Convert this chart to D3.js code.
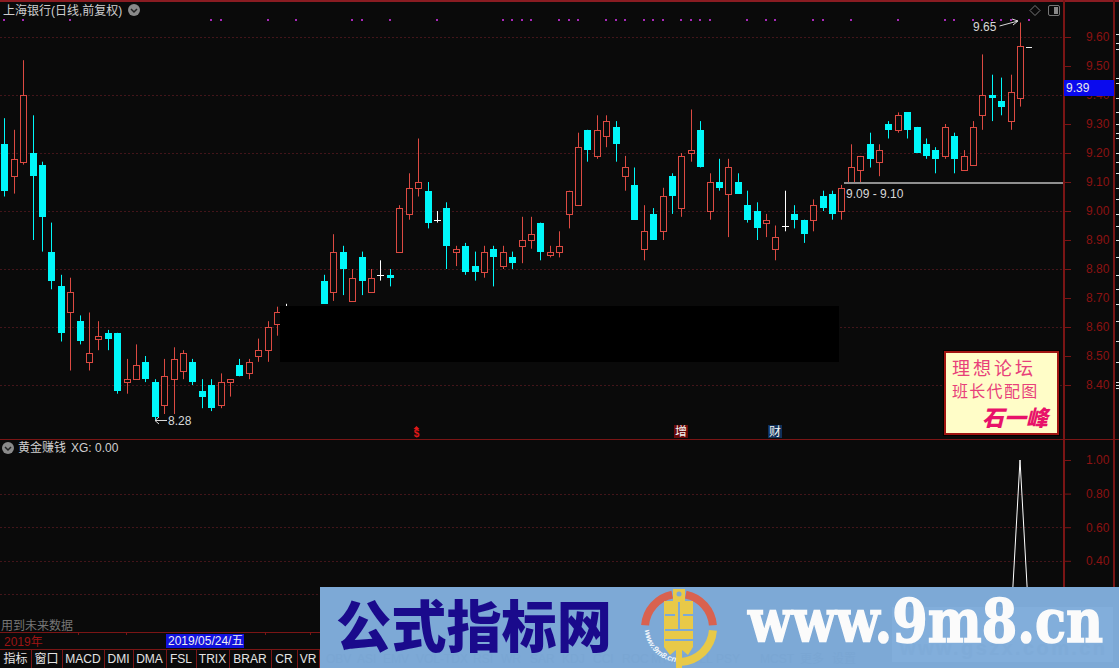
<!DOCTYPE html>
<html lang="zh-CN">
<head>
  <meta charset="UTF-8" />
  <title>上海银行 日线</title>
  <style>
    html, body { margin: 0; padding: 0; background: #0a0a0a; overflow: hidden; }
    svg { display: block; }
    text { font-family: "Liberation Sans", "Noto Sans CJK SC", sans-serif; }
    .axis text { font-size: 12px; fill: #8c1212; }
    .axis line { stroke: #7a1515; }
  </style>
</head>
<body>
  <svg id="chart" width="1119" height="668"></svg>

  <script src="https://d3js.org/d3.v7.min.js"></script>
  <script>
    // values, days 30-33 sit behind the black box so they are guesses
    const openPrices = [
      9.23, 9.12, 9.17, 9.20, 9.16, 8.86, 8.74, 8.65, 8.62, 8.48,
      8.56, 8.58, 8.58, 8.41, 8.42, 8.48, 8.41, 8.33, 8.42, 8.45,
      8.48, 8.38, 8.40, 8.33, 8.41, 8.47, 8.44, 8.50, 8.52, 8.61,
      8.62, 8.60, 8.65, 8.60, 8.76, 8.72, 8.86, 8.69, 8.84, 8.72,
      8.78, 8.78, 8.86, 8.99, 9.08, 9.07, 8.97, 9.01, 8.86, 8.88,
      8.81, 8.79, 8.87, 8.81, 8.84, 8.88, 8.90, 8.96, 8.85, 8.86,
      8.99, 9.02, 9.28, 9.19, 9.26, 9.29, 9.12, 9.09, 8.87, 8.99,
      8.93, 9.12, 9.01, 9.20, 9.28, 9.00, 9.10, 9.06, 9.10, 9.02,
      9.00, 8.96, 8.87, 8.95, 8.99, 8.97, 8.97, 9.05, 9.06, 9.00,
      9.10, 9.14, 9.23, 9.17, 9.30, 9.28, 9.34, 9.29, 9.23, 9.21,
      9.19, 9.26, 9.14, 9.16, 9.33, 9.40, 9.38, 9.31, 9.39
    ];
    const closePrices = [
      9.07, 9.18, 9.40, 9.12, 8.98, 8.76, 8.58, 8.72, 8.55, 8.51,
      8.57, 8.56, 8.38, 8.42, 8.47, 8.42, 8.29, 8.43, 8.49, 8.51,
      8.41, 8.36, 8.32, 8.41, 8.42, 8.43, 8.48, 8.52, 8.60, 8.65,
      8.62, 8.64, 8.60, 8.65, 8.68, 8.86, 8.80, 8.77, 8.76, 8.77,
      8.78, 8.77, 9.01, 9.08, 9.10, 8.96, 8.97, 8.88, 8.87, 8.79,
      8.79, 8.86, 8.84, 8.86, 8.82, 8.90, 8.92, 8.86, 8.86, 8.88,
      9.07, 9.22, 9.21, 9.28, 9.31, 9.23, 9.15, 8.97, 8.93, 8.90,
      9.05, 9.05, 9.19, 9.21, 9.15, 9.10, 9.08, 9.15, 9.06, 8.97,
      8.94, 8.97, 8.91, 8.95, 8.97, 8.92, 9.02, 9.01, 8.99, 9.08,
      9.15, 9.19, 9.18, 9.21, 9.28, 9.33, 9.28, 9.20, 9.19, 9.18,
      9.29, 9.18, 9.19, 9.29, 9.40, 9.39, 9.36, 9.41, 9.57
    ];
    const highPrices = [
      9.32, 9.28, 9.52, 9.33, 9.17, 8.96, 8.78, 8.77, 8.64, 8.65,
      8.62, 8.59, 8.58, 8.49, 8.54, 8.50, 8.42, 8.49, 8.53, 8.52,
      8.49, 8.42, 8.42, 8.44, 8.42, 8.49, 8.49, 8.56, 8.62, 8.67,
      8.68, 8.66, 8.66, 8.66, 8.78, 8.92, 8.88, 8.80, 8.86, 8.80,
      8.83, 8.80, 9.02, 9.13, 9.25, 9.10, 9.00, 9.03, 8.88, 8.89,
      8.86, 8.88, 8.88, 8.88, 8.86, 8.98, 8.98, 8.96, 8.88, 8.93,
      9.07, 9.27, 9.28, 9.33, 9.33, 9.31, 9.19, 9.15, 9.02, 9.01,
      9.08, 9.13, 9.20, 9.35, 9.31, 9.13, 9.18, 9.18, 9.13, 9.07,
      9.03, 8.99, 8.95, 9.07, 9.02, 8.97, 9.04, 9.07, 9.07, 9.09,
      9.23, 9.19, 9.27, 9.23, 9.31, 9.34, 9.34, 9.29, 9.25, 9.22,
      9.30, 9.27, 9.21, 9.31, 9.54, 9.47, 9.46, 9.47, 9.65
    ];
    const lowPrices = [
      9.05, 9.06, 9.16, 8.90, 8.86, 8.73, 8.55, 8.45, 8.54, 8.45,
      8.52, 8.52, 8.37, 8.37, 8.42, 8.41, 8.28, 8.30, 8.30, 8.42,
      8.40, 8.32, 8.31, 8.32, 8.36, 8.43, 8.42, 8.48, 8.48, 8.57,
      8.60, 8.58, 8.58, 8.59, 8.68, 8.69, 8.71, 8.69, 8.71, 8.72,
      8.76, 8.74, 8.86, 8.97, 9.05, 8.94, 8.96, 8.80, 8.81, 8.78,
      8.76, 8.77, 8.74, 8.80, 8.80, 8.82, 8.87, 8.83, 8.84, 8.84,
      8.94, 9.02, 9.17, 9.18, 9.22, 9.17, 9.07, 8.97, 8.83, 8.90,
      8.90, 8.99, 8.98, 9.17, 9.15, 8.97, 9.07, 8.91, 9.06, 8.96,
      8.90, 8.91, 8.83, 8.93, 8.94, 8.89, 8.93, 9.00, 8.97, 8.97,
      9.10, 9.10, 9.15, 9.12, 9.25, 9.27, 9.25, 9.20, 9.18, 9.13,
      9.18, 9.13, 9.14, 9.16, 9.28, 9.31, 9.33, 9.28, 9.36
    ];
    const signalDays = [
      0, 2, 7, 22, 23, 28, 31, 37, 38, 41, 46, 53, 54, 55, 56, 59, 60, 61,
      64, 65, 66, 68, 69, 70, 72, 73, 74, 75, 79, 81, 82, 86, 87, 90, 95,
      100, 101, 103, 104, 105, 106, 107, 109
    ];
    const xgDays = [107, 108, 109];
    const xgValues = [0, 1, 0];

    const priceTicks = [9.6, 9.5, 9.4, 9.3, 9.2, 9.1, 9.0, 8.9, 8.8, 8.7, 8.6, 8.5, 8.4];
    const priceGrid = [9.6, 9.4, 9.2, 9.0, 8.8, 8.6, 8.4];
    const sidePrices = [
      9.61, 9.58, 9.56, 9.46, 9.44, 9.39, 9.34, 9.30, 9.27, 9.25, 9.20, 9.17, 9.13,
      9.08, 9.04, 8.99, 8.95, 8.90, 8.84, 8.78, 8.73, 8.68, 8.62, 8.55, 8.48, 8.41, 8.40, 8.39
    ];
    const xgTicks = [1, 0.8, 0.6, 0.4, 0.2];
    const xgGrid = [0.8, 0.6, 0.4, 0.2];
    const tabLabels = ["指标", "窗口", "MACD", "DMI", "DMA", "FSL", "TRIX", "BRAR", "CR", "VR"];
    const hiddenTabLabels = ["OBV", "ASI", "EMV", "VOL-TDX", "RSI", "WR", "SAR", "KDJ", "CCI", "ROC", "MTM", "BOLL", "PSY", "MCST", "更多", "设置"];

    const RED = "#dc4a42", CYAN = "#00f8fa", LINE = "#7a1515";

    const svg = d3.select("#chart");
    svg.append("rect").attr("width", 1119).attr("height", 668).attr("fill", "#0a0a0a");

    const days = openPrices.map((open, i) => ({
      i, open, close: closePrices[i], high: highPrices[i], low: lowPrices[i]
    }));

    const x = d3.scaleLinear().domain([0, 108]).range([4.3, 1020]);
    const y = d3.scaleLinear().domain([8.4, 9.6]).range([385, 37]);
    const ySub = d3.scaleLinear().domain([0, 1]).range([628, 460]);
    const px = v => Math.round(v) + 0.5;

    // grid
    const hGrid = (values, scale) => svg.append("g").selectAll("line").data(values).join("line")
      .attr("x1", 0).attr("x2", 1064)
      .attr("y1", d => px(scale(d))).attr("y2", d => px(scale(d)))
      .attr("stroke", "#43151a").attr("stroke-dasharray", "2,2");
    hGrid(priceGrid, y);
    hGrid(xgGrid, ySub);

    // candles
    const colorOf = d => d.close === d.open ? "#fff" : (d.close > d.open ? RED : CYAN);
    const candles = svg.append("g").selectAll("g").data(days).join("g");
    const bodyTop = d => Math.round(y(Math.max(d.open, d.close)));
    const bodyBottom = d => Math.round(y(Math.min(d.open, d.close)));

    candles.append("line")
      .attr("x1", d => px(x(d.i))).attr("x2", d => px(x(d.i)))
      .attr("y1", d => y(d.high)).attr("y2", d => bodyTop(d))
      .attr("stroke", colorOf);
    candles.append("line")
      .attr("x1", d => px(x(d.i))).attr("x2", d => px(x(d.i)))
      .attr("y1", d => bodyBottom(d)).attr("y2", d => y(d.low))
      .attr("stroke", colorOf);
    candles.append("rect")
      .attr("x", d => Math.round(x(d.i)) - 3 + (d.close > d.open ? 0.5 : 0))
      .attr("y", d => bodyTop(d) + (d.close > d.open ? 0.5 : 0))
      .attr("width", d => d.close > d.open ? 6 : 7)
      .attr("height", d => d.close === d.open ? 1 : Math.max(1, bodyBottom(d) - bodyTop(d)))
      .attr("fill", d => d.close > d.open ? "#0a0a0a" : colorOf(d))
      .attr("stroke", d => d.close > d.open ? RED : "none");

    // black box over the middle of the chart
    svg.append("rect").attr("x", 280).attr("y", 306).attr("width", 559).attr("height", 56).attr("fill", "#000");

    // signal dots along the top
    svg.append("g").selectAll("rect").data(signalDays).join("rect")
      .attr("x", d => Math.round(x(d)) - 1).attr("y", 19)
      .attr("width", 2).attr("height", 2)
      .attr("fill", "#a828b8");

    // support line and labels
    svg.append("line").attr("x1", 844).attr("x2", 1064).attr("y1", 183).attr("y2", 183)
      .attr("stroke", "#8f8f8f").attr("stroke-width", 2);
    const note = (tx, ty, s) => svg.append("text").attr("x", tx).attr("y", ty)
      .attr("font-size", 12).attr("fill", "#d8d8d8").text(s);
    note(846, 198, "9.09 - 9.10");
    note(973, 31, "9.65");
    note(168, 425, "8.28");
    svg.append("path").attr("d", "M999.5,26 L1018,21 M1012,19 L1018,21 L1013,25")
      .attr("fill", "none").attr("stroke", "#d8d8d8");
    svg.append("path").attr("d", "M155,420.5 H167 M159,417 L155,420.5 L159,424")
      .attr("fill", "none").attr("stroke", "#d8d8d8");
    svg.append("line").attr("x1", 1026).attr("x2", 1032).attr("y1", 47.5).attr("y2", 47.5).attr("stroke", "#eee");

    // news markers above the separator
    svg.append("text").attr("x", 416.5).attr("y", 437).attr("text-anchor", "middle")
      .attr("font-size", 10).attr("font-weight", "bold").attr("fill", "#e01818").text("$");
    svg.append("path").attr("d", "M416.5,426 l3,3 h-6 z").attr("fill", "#e01818");
    const badge = (bx, bg, s) => {
      svg.append("rect").attr("x", bx).attr("y", 425).attr("width", 14).attr("height", 13).attr("fill", bg);
      svg.append("text").attr("x", bx + 7).attr("y", 436).attr("text-anchor", "middle")
        .attr("font-size", 12).attr("fill", "#f4f4f4").text(s);
    };
    badge(674, "#6a0a0a", "增");
    badge(768, "#10305a", "财");

    // XG indicator
    svg.append("path")
      .datum(xgValues)
      .attr("fill", "none").attr("stroke", "#fff")
      .attr("d", d3.line().x((d, i) => x(xgDays[i])).y(d => ySub(d)));

    // frame
    const rule = (x1, y1, x2, y2, w) => svg.append("line")
      .attr("x1", x1).attr("y1", y1).attr("x2", x2).attr("y2", y2)
      .attr("stroke", LINE).attr("stroke-width", w || 1);
    svg.append("rect").attr("width", 1119).attr("height", 2).attr("fill", "#8a1c22");
    rule(0, 439.5, 1119, 439.5);
    rule(0, 632.5, 1119, 632.5);
    rule(0, 649.5, 1119, 649.5);
    rule(1064, 0, 1064, 632, 2);
    rule(1114, 0, 1114, 632, 2);

    // axes
    const priceAxis = svg.append("g").attr("class", "axis").attr("transform", "translate(1064,0)")
      .call(d3.axisRight(y).tickValues(priceTicks).tickSize(7).tickPadding(15).tickFormat(d3.format(".2f")));
    priceAxis.select(".domain").remove();
    const xgAxis = svg.append("g").attr("class", "axis").attr("transform", "translate(1064,0)")
      .call(d3.axisRight(ySub).tickValues(xgTicks).tickSize(7).tickPadding(15).tickFormat(d3.format(".2f")));
    xgAxis.select(".domain").remove();

    // white ticks right of the axis
    svg.append("g").selectAll("line").data(sidePrices).join("line")
      .attr("x1", 1116).attr("x2", 1119)
      .attr("y1", d => px(y(d))).attr("y2", d => px(y(d)))
      .attr("stroke", "#e0e0e0");

    // current price tag
    svg.append("rect").attr("x", 1064).attr("y", 80).attr("width", 50).attr("height", 16).attr("fill", "#0a0aee");
    svg.append("text").attr("x", 1066).attr("y", 92).attr("font-size", 12).attr("fill", "#e8e8e8").text("9.39");

    // titles
    const icon = (cx, cy) => {
      svg.append("circle").attr("cx", cx).attr("cy", cy).attr("r", 6).attr("fill", "#8a8a8a");
      svg.append("path").attr("d", `M${cx - 3},${cy - 1} l3,3 l3,-3`).attr("fill", "none").attr("stroke", "#222").attr("stroke-width", 1.5);
    };
    svg.append("text").attr("x", 3).attr("y", 15).attr("font-size", 12).attr("fill", "#cfcfcf").text("上海银行(日线,前复权)");
    icon(134, 10);
    icon(8, 448);
    svg.append("text").attr("x", 18).attr("y", 452).attr("font-size", 12).attr("fill", "#cfcfcf").text("黄金赚钱");
    svg.append("text").attr("x", 71).attr("y", 452).attr("font-size", 12).attr("fill", "#cfcfcf").text("XG: 0.00");
    svg.append("path").attr("d", "M1035,5.5 L1040,10.5 L1035,15.5 L1030,10.5 Z").attr("fill", "none").attr("stroke", "#777");
    svg.append("rect").attr("x", 1048.5).attr("y", 5.5).attr("width", 11).attr("height", 10).attr("rx", 1.5).attr("fill", "none").attr("stroke", "#777");
    svg.append("rect").attr("x", 1054).attr("y", 7).attr("width", 4).attr("height", 7).attr("fill", "#888");

    // card
    svg.append("rect").attr("x", 943).attr("y", 350).attr("width", 117).attr("height", 86).attr("fill", "#000");
    svg.append("rect").attr("x", 945).attr("y", 352).attr("width", 113).attr("height", 82)
      .attr("fill", "#fffdc8").attr("stroke", "#a01512").attr("stroke-width", 2);
    svg.append("text").attr("x", 952).attr("y", 375).attr("font-size", 18).attr("letter-spacing", 3).attr("fill", "#e8407a").text("理想论坛");
    svg.append("text").attr("x", 952).attr("y", 397).attr("font-size", 16).attr("letter-spacing", 1.3).attr("fill", "#e8407a").text("班长代配图");
    svg.append("text").attr("x", 982).attr("y", 426).attr("font-size", 22).attr("font-weight", 900)
      .attr("font-style", "italic").attr("fill", "#e8126a").text("石一峰");

    // bottom bars
    svg.append("text").attr("x", 1).attr("y", 630).attr("font-size", 12).attr("fill", "#767676").text("用到未来数据");
    svg.append("text").attr("x", 4).attr("y", 646).attr("font-size", 12).attr("fill", "#9c1414").text("2019年");
    svg.append("rect").attr("x", 166).attr("y", 634).attr("width", 78).attr("height", 14).attr("fill", "#1212dd");
    svg.append("text").attr("x", 168).attr("y", 645).attr("font-size", 12).attr("fill", "#f0f0f0").text("2019/05/24/五");
    [78, 126, 265, 310].forEach(t => rule(t + 0.5, 632, t + 0.5, 635));

    const tabEdges = [0, 31, 62, 104, 133, 166, 196, 229, 271, 297, 319];
    tabLabels.forEach((label, i) => {
      svg.append("text").attr("x", (tabEdges[i] + tabEdges[i + 1]) / 2).attr("y", 663)
        .attr("text-anchor", "middle").attr("font-size", 12).attr("fill", "#e4e4e4").text(label);
      rule(tabEdges[i + 1] + 0.5, 650, tabEdges[i + 1] + 0.5, 668);
    });

    // watermark banner
    svg.append("rect").attr("x", 320).attr("y", 587).attr("width", 799).attr("height", 81).attr("fill", "#7da9d6");
    svg.append("rect").attr("x", 892).attr("y", 607).attr("width", 221).attr("height", 55).attr("fill", "#82aedb");
    const hiddenTabX = [326, 357, 383, 416, 473, 501, 530, 562, 593, 622, 651, 682, 716, 760, 800, 832];
    hiddenTabLabels.forEach((label, i) => {
      svg.append("text").attr("x", hiddenTabX[i]).attr("y", 663).attr("font-size", 12).attr("fill", "#7aa6d3").text(label);
    });
    svg.append("text").attr("x", 900).attr("y", 655).attr("font-size", 20).attr("font-weight", "bold")
      .attr("fill", "#7fabd8").attr("textLength", 205).text("www.gszx.com.cn");

    svg.append("text").attr("x", 336).attr("y", 647).attr("font-size", 56)
      .style("font-family", '"Noto Sans CJK SC", sans-serif').attr("font-weight", 900)
      .attr("fill", "#1a0a8c").attr("textLength", 276).attr("lengthAdjust", "spacingAndGlyphs").text("公式指标网");
    svg.append("text").attr("x", 748).attr("y", 642).attr("font-size", 60)
      .style("font-family", '"DejaVu Serif", serif').attr("font-weight", "bold")
      .attr("fill", "#fbfbfb").attr("stroke", "#fbfbfb").attr("stroke-width", 1.5)
      .attr("textLength", 355).attr("lengthAdjust", "spacingAndGlyphs").text("www.9m8.cn");

    // logo
    const logo = svg.append("g").attr("transform", "translate(679,628)");
    const ring = d3.arc().innerRadius(30).outerRadius(38);
    [[-1.49, -0.2, "#d9624f"], [0.2, 1.49, "#d9624f"], [1.64, 3.1, "#e8c948"]].forEach(a => {
      logo.append("path").attr("d", ring({ startAngle: a[0], endAngle: a[1] })).attr("fill", a[2]);
    });
    logo.append("path")
      .attr("d", "M-6,-39 H6 V-27 H14 V19 L9,27 L3,22 L3,42 L-3,42 L-3,22 L-9,27 L-15,19 V-27 H-6 Z")
      .attr("fill", "#e8c948");
    logo.append("circle").attr("cx", 0).attr("cy", -34).attr("r", 2.5).attr("fill", "#7da9d6");
    logo.append("path")
      .attr("d", "M-14,-13 H-4 M4,-13 H14 M-14,2 H14 M-14,12 H14 M0,-26 V2")
      .attr("stroke", "#7da9d6").attr("stroke-width", 2).attr("fill", "none");
    logo.append("path").attr("id", "logoArc").attr("d", "M-34,2 A34,34 0 0 0 -2,34").attr("fill", "none");
    logo.append("text").attr("font-size", 8).attr("font-weight", "bold").attr("font-style", "italic").attr("fill", "#f2f6fb")
      .append("textPath").attr("href", "#logoArc").text("www.9m8.cn");
  </script>
</body>
</html>
